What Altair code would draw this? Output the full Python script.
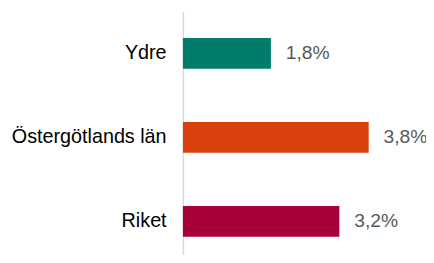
import altair as alt
import pandas as pd

categories = ["Ydre", "Östergötlands län", "Riket"]
values = [1.8, 3.8, 3.2]
colors = ["#007C6B", "#D9410F", "#A80038"]
labels = [f"{v:.1f}".replace(".", ",") + "%" for v in values]

df = pd.DataFrame({"cat": categories, "val": values, "label": labels, "color": colors})

y = alt.Y("cat:N", sort=categories, title=None,
          scale=alt.Scale(range=[0, 255], paddingInner=0.635, paddingOuter=0.3176),
          axis=alt.Axis(domainColor="#D9D9D9", domainWidth=1.5, ticks=False,
                        labelFontSize=20, labelColor="#000000", labelFont="Liberation Sans",
                        labelPadding=17, labelLimit=200))
x = alt.X("val:Q", title=None, scale=alt.Scale(domain=[0, 4.77], nice=False, zero=True), axis=None)

bars = alt.Chart(df).mark_bar().encode(
    x=x, y=y, color=alt.Color("color:N", scale=None)
)
text = alt.Chart(df).mark_text(align="left", baseline="middle", dx=15, fontSize=19.5,
                               font="Liberation Sans", color="#595959").encode(
    x=x, y=alt.Y("cat:N", sort=categories), text="label:N"
)

chart = (bars + text).properties(
    width=236, height=245,
    padding={"left": 177, "top": 2, "right": 10, "bottom": 0},
    autosize=alt.AutoSizeParams(type="none"),
).configure_view(stroke=None)

chart.save("out.html", embed_options={"renderer": "svg", "actions": False})
